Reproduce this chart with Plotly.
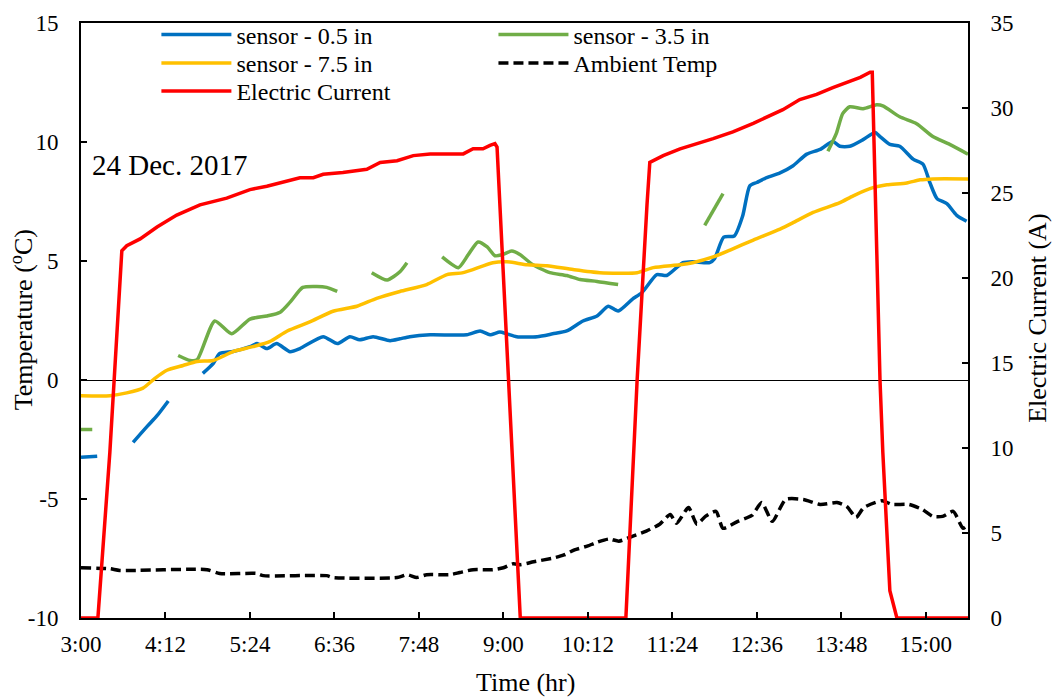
import plotly.graph_objects as go

# ---- data (time in decimal hours) ----
tick_vals = [3, 4.2, 5.4, 6.6, 7.8, 9, 10.2, 11.4, 12.6, 13.8, 15]
tick_text = ["3:00", "4:12", "5:24", "6:36", "7:48", "9:00", "10:12", "11:24", "12:36", "13:48", "15:00"]
temp_ticks = [-10, -5, 0, 5, 10, 15]
temp_tick_text = ["-10", "-5", "0", "5", "10", "15"]

s05_t = [3.0, 3.23, None,
         3.74, 3.94, 4.08, 4.24, None,
         4.73, 4.88, 4.97, 5.16, 5.40, 5.50, 5.64, 5.78, 5.97, 6.11, 6.44, 6.64, 6.82, 6.96, 7.15,
         7.39, 7.53, 7.67, 7.96, 8.48, 8.67, 8.81, 8.95, 9.05, 9.19, 9.48, 9.70, 9.90, 10.13, 10.33,
         10.49, 10.63, 10.83, 10.97, 11.18, 11.32, 11.55, 11.69, 11.93, 12.0, 12.13, 12.28, 12.40,
         12.50, 12.60, 12.74, 12.93, 13.11, 13.31, 13.50, 13.68, 13.78, 13.92, 14.11, 14.28, 14.35,
         14.49, 14.63, 14.82, 14.96, 15.06, 15.16, 15.30, 15.44, 15.58]
s05_v = [-3.25, -3.2, None,
         -2.62, -1.95, -1.5, -0.88, None,
         0.28, 0.7, 1.11, 1.2, 1.4, 1.53, 1.32, 1.53, 1.19, 1.32, 1.82, 1.53, 1.82, 1.69, 1.82,
         1.65, 1.73, 1.82, 1.9, 1.9, 2.06, 1.9, 2.02, 1.94, 1.82, 1.82, 1.94, 2.06, 2.48, 2.69,
         3.1, 2.9, 3.39, 3.68, 4.43, 4.39, 4.93, 4.97, 4.93, 5.1, 6.0, 6.05, 6.9,
         8.16, 8.3, 8.5, 8.7, 8.99, 9.49, 9.69, 10.02, 9.82, 9.82, 10.1, 10.4, 10.23,
         9.9, 9.82, 9.28, 9.07, 8.28, 7.62, 7.41, 6.92, 6.67]

s35_t = [3.0, 3.16, None,
         4.38, 4.55, 4.65, 4.90, 5.14, 5.40, 5.64, 5.83, 5.97, 6.15, 6.35, 6.49, 6.64, None,
         7.13, 7.35, 7.53, 7.63, None,
         8.13, 8.36, 8.50, 8.64, 8.77, 8.88, 8.98, 9.12, 9.24, 9.42, 9.66, 9.90, 10.09, 10.33, 10.63, None,
         11.86, 12.12, None,
         13.61, 13.73, 13.82, 13.92, 14.11, 14.30, 14.39, 14.63, 14.87, 15.10, 15.34, 15.60]
s35_v = [-2.08, -2.08, None,
         1.03, 0.82, 0.85, 2.48, 1.94, 2.56, 2.69, 2.85, 3.27, 3.89, 3.93, 3.89, 3.72, None,
         4.51, 4.2, 4.55, 4.93, None,
         5.17, 4.72, 5.26, 5.8, 5.59, 5.22, 5.26, 5.42, 5.26, 4.84, 4.51, 4.39, 4.22, 4.14, 4.01, None,
         6.5, 7.83, None,
         9.61, 10.36, 11.19, 11.48, 11.4, 11.56, 11.52, 11.06, 10.77, 10.23, 9.9, 9.49]

s75_t = [3.0, 3.41, 3.65, 3.88, 4.05, 4.22, 4.45, 4.65, 4.88, 5.16, 5.44, 5.68, 5.93, 6.25, 6.58,
         6.92, 7.20, 7.53, 7.91, 8.20, 8.43, 8.85, 9.05, 9.34, 9.62, 9.99, 10.37, 10.90, 11.13,
         11.51, 11.69, 11.98, 12.22, 12.55, 12.93, 13.11, 13.40, 13.78, 13.97, 14.25, 14.45,
         14.73, 14.92, 15.10, 15.60]
s75_v = [-0.66, -0.66, -0.54, -0.34, 0.07, 0.41, 0.61, 0.78, 0.82, 1.19, 1.4, 1.61, 2.06, 2.44, 2.89,
         3.1, 3.43, 3.72, 4.01, 4.43, 4.51, 4.93, 4.97, 4.84, 4.8, 4.64, 4.51, 4.51, 4.72,
         4.84, 4.93, 5.17, 5.46, 5.88, 6.34, 6.6, 7.04, 7.45, 7.74, 8.08, 8.2,
         8.28, 8.41, 8.45, 8.45]

amb_t = [3.0, 3.41, 3.55, 4.79, 4.97, 5.50, 5.59, 6.49, 6.58, 7.49, 7.63, 7.77, 7.91, 8.24, 8.38,
         8.57, 8.85, 9.0, 9.14, 9.24, 9.43, 9.72, 9.86, 10.01, 10.20, 10.30, 10.50, 10.64, 10.84,
         11.03, 11.22, 11.37, 11.46, 11.63, 11.75, 11.87, 12.02, 12.12, 12.33, 12.53, 12.67, 12.82,
         13.01, 13.26, 13.50, 13.74, 13.88, 14.01, 14.12, 14.38, 14.52, 14.76, 14.95, 15.10, 15.24,
         15.39, 15.53, 15.60]
amb_v = [-7.89, -7.93, -8.0, -7.97, -8.13, -8.13, -8.22, -8.22, -8.3, -8.3, -8.18, -8.3, -8.18, -8.18, -8.09,
         -7.97, -7.97, -7.89, -7.72, -7.76, -7.64, -7.47, -7.35, -7.14, -6.97, -6.85, -6.68, -6.77, -6.56,
         -6.35, -6.06, -5.65, -6.02, -5.36, -6.06, -5.73, -5.52, -6.23, -5.94, -5.69, -5.15, -5.94,
         -5.02, -5.02, -5.23, -5.15, -5.32, -5.77, -5.36, -5.07, -5.23, -5.23, -5.44, -5.73, -5.73,
         -5.52, -6.23, -6.06]

cur_t = [3.0, 3.24, 3.41, 3.58, 3.65, 3.84, 4.08, 4.36, 4.69, 5.07, 5.40, 5.64, 6.11, 6.30, 6.44,
         6.72, 7.06, 7.25, 7.49, 7.72, 7.96, 8.43, 8.57, 8.71, 8.81, 8.88, 8.91, 9.07, 9.24,
         10.74, 10.86, 10.90, 11.04, 11.08, 11.27, 11.51, 11.98, 12.26, 12.55, 12.97, 13.21, 13.45,
         13.68, 13.92, 14.07, 14.21, 14.24, 14.35, 14.39, 14.49, 14.59, 15.60]
cur_v = [0, 0, 9.75, 21.6, 21.9, 22.3, 23.0, 23.7, 24.3, 24.7, 25.2, 25.4, 25.9, 25.9, 26.1,
         26.2, 26.4, 26.8, 26.9, 27.2, 27.3, 27.3, 27.6, 27.6, 27.8, 27.9, 27.7, 14.0, 0,
         0, 9.8, 14.0, 24.3, 26.8, 27.2, 27.6, 28.2, 28.6, 29.1, 29.9, 30.5, 30.8,
         31.2, 31.6, 31.8, 32.1, 32.1, 14.0, 9.75, 1.6, 0, 0]

FONT = "Liberation Serif"
LW = 3.5

fig = go.Figure()
fig.add_trace(go.Scatter(x=s05_t, y=s05_v, name="sensor - 0.5 in", mode="lines",
                         line=dict(color="#0070C0", width=LW, shape="spline", smoothing=0.6),
                         connectgaps=False, legend="legend", showlegend=True))
fig.add_trace(go.Scatter(x=s35_t, y=s35_v, name="sensor - 3.5 in", mode="lines",
                         line=dict(color="#70AD47", width=LW, shape="spline", smoothing=0.6),
                         connectgaps=False, legend="legend2", showlegend=True))
fig.add_trace(go.Scatter(x=s75_t, y=s75_v, name="sensor - 7.5 in", mode="lines",
                         line=dict(color="#FFC000", width=LW, shape="spline", smoothing=0.6),
                         legend="legend3", showlegend=True))
fig.add_trace(go.Scatter(x=amb_t, y=amb_v, name="Ambient Temp", mode="lines",
                         line=dict(color="black", width=LW, dash="10px,5px", shape="spline", smoothing=0.6),
                         legend="legend4", showlegend=True))
fig.add_trace(go.Scatter(x=cur_t, y=cur_v, name="Electric Current", mode="lines",
                         line=dict(color="#FF0000", width=LW), yaxis="y2", legend="legend5",
                         showlegend=True))

ann_font = dict(family=FONT, size=26, color="black")
fig.add_annotation(text="24 Dec. 2017", x=0.01, y=0.762, xref="paper", yref="paper",
                   xanchor="left", yanchor="middle", showarrow=False,
                   font=dict(family=FONT, size=29, color="black"))
fig.add_annotation(text="Temperature (<sup>o</sup>C)", x=-0.066, y=0.501, xref="paper", yref="paper",
                   xanchor="center", yanchor="middle", showarrow=False, textangle=-90, font=ann_font)
fig.add_annotation(text="Electric Current (A)", x=1.079, y=0.503, xref="paper", yref="paper",
                   xanchor="center", yanchor="middle", showarrow=False, textangle=-90, font=ann_font)
fig.add_annotation(text="Time (hr)", x=0.5006, y=-0.109, xref="paper", yref="paper",
                   xanchor="center", yanchor="middle", showarrow=False, font=ann_font)

leg_common = dict(font=dict(family=FONT, size=24, color="black"), bgcolor="rgba(0,0,0,0)",
                  orientation="v", xanchor="left", yanchor="middle", itemwidth=70, visible=True)

fig.update_layout(
    width=1052, height=700,
    margin=dict(l=81, r=84, t=15, b=82),
    paper_bgcolor="white", plot_bgcolor="white",
    font=dict(family=FONT, size=23, color="black"),
    showlegend=True,
    legend=dict(x=0.085, y=0.980, **leg_common),
    legend2=dict(x=0.465, y=0.980, **leg_common),
    legend3=dict(x=0.085, y=0.932, **leg_common),
    legend4=dict(x=0.465, y=0.932, **leg_common),
    legend5=dict(x=0.085, y=0.885, **leg_common),
    xaxis=dict(range=[3, 15.6], tickvals=tick_vals, ticktext=tick_text, automargin=False,
               showline=True, linecolor="black", linewidth=2, mirror=True,
               ticks="inside", ticklen=6, tickwidth=2, tickcolor="black",
               showgrid=False, zeroline=False, ticklabelstandoff=4),
    yaxis=dict(range=[-10, 15], tickvals=temp_ticks, ticktext=temp_tick_text,
               showline=True, linecolor="black", linewidth=2,
               mirror=True, ticks="inside", ticklen=6, tickwidth=2, tickcolor="black",
               showgrid=False, zeroline=True, zerolinecolor="black", zerolinewidth=1,
               ticklabelstandoff=16, automargin=False),
    yaxis2=dict(range=[0, 35], dtick=5, overlaying="y", side="right", showline=True,
                linecolor="black", linewidth=2, ticks="inside", ticklen=6, tickwidth=2,
                tickcolor="black", showgrid=False, zeroline=False, ticklabelstandoff=16,
                automargin=False),
)

fig.write_html("out.html", config={"displayModeBar": False},
               post_script="document.body.style.margin='0px';")
